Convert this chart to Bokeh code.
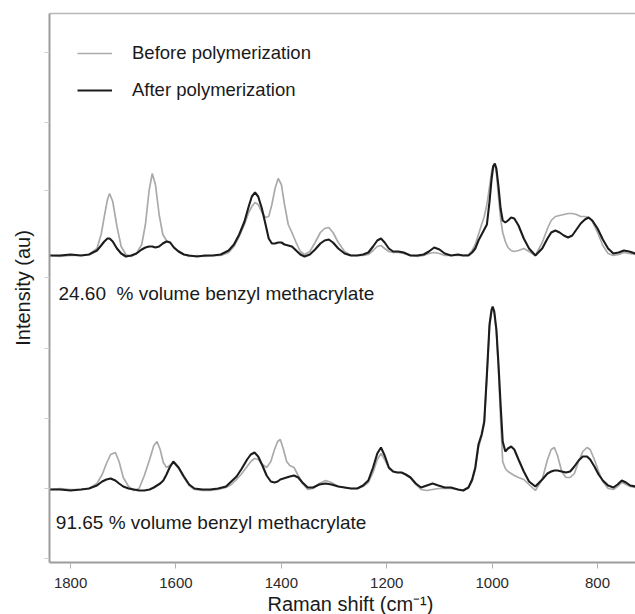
import numpy as np
from bokeh.plotting import figure
from bokeh.models import Range1d, FixedTicker, LinearAxis, Legend, LegendItem, Label, Title
from bokeh.embed import file_html
from bokeh.resources import INLINE

# ---------------- data ----------------
x_ticks = [1800, 1600, 1400, 1200, 1000, 800]
y_ticks = [4, 74, 144, 214, 285, 372, 440, 510]   # unlabeled intensity ticks

offset_top = 306   # baseline of the 24.60 % spectra (intensity units)
offset_bot = 73    # baseline of the 91.65 % spectra

wn_top = [1840, 1820, 1800, 1780, 1765, 1750, 1742, 1736, 1730, 1726,
          1720, 1712, 1704, 1695, 1685, 1675, 1665, 1658, 1651, 1645,
          1639, 1632, 1625, 1618, 1611, 1604, 1595, 1585, 1575, 1560,
          1545, 1530, 1515, 1500, 1490, 1480, 1470, 1462, 1456, 1450,
          1444, 1437, 1430, 1424, 1418, 1412, 1406, 1400, 1394, 1387,
          1380, 1372, 1364, 1356, 1346, 1336, 1326, 1318, 1310, 1302,
          1292, 1280, 1268, 1256, 1245, 1235, 1226, 1218, 1211, 1204,
          1196, 1188, 1178, 1168, 1155, 1142, 1130, 1120, 1110, 1100,
          1090, 1078, 1065, 1055, 1045, 1038, 1032, 1026, 1020, 1015,
          1010, 1005, 1001, 998, 995, 992, 988, 984, 980, 975,
          970, 964, 958, 950, 940, 930, 918, 905, 895, 888,
          880, 872, 864, 856, 848, 840, 832, 824, 817, 810,
          800, 790, 780, 770, 760, 750, 740, 728]

after_top = [1, 1, 2, 1, 2, 6, 11, 15, 18, 18,
             15, 8, 3, 0, 1, 3, 7, 9, 10, 10,
             9, 10, 13, 15, 14, 9, 5, 2, 1, 0,
             1, 1, 2, 6, 12, 22, 35, 50, 60, 64,
             60, 48, 32, 18, 13, 13, 14, 14, 12, 11,
             10, 6, 2, 0, 2, 7, 13, 16, 17, 14,
             8, 3, 1, 1, 2, 4, 10, 16, 18, 14,
             8, 5, 5, 4, 1, 1, 2, 5, 9, 7,
             3, 1, 2, 1, 1, 4, 8, 16, 22, 27,
             32, 55, 78, 90, 93, 88, 70, 48, 36, 34,
             36, 39, 38, 31, 18, 8, 1, 8, 18, 24,
             26, 24, 21, 19, 21, 27, 33, 37, 39, 36,
             28, 17, 8, 3, 4, 6, 5, 3]

before_top = [1, 0, 1, 1, 2, 8, 22, 40, 57, 63,
              55, 30, 10, 2, 0, 3, 12, 32, 66, 83,
              72, 42, 22, 16, 14, 9, 5, 2, 0, 1,
              0, 1, 1, 4, 10, 20, 32, 44, 50, 54,
              52, 44, 39, 40, 52, 68, 78, 72, 52, 32,
              24, 14, 5, 2, 5, 14, 24, 28, 29, 24,
              14, 5, 1, 1, 1, 2, 6, 10, 11, 8,
              5, 4, 4, 3, 1, 0, 1, 3, 4, 3,
              1, 1, 1, 1, 2, 6, 12, 22, 32, 40,
              52, 70, 85, 91, 92, 84, 60, 38, 24, 15,
              9, 6, 5, 6, 8, 5, 1, 14, 28, 36,
              40, 41, 42, 43, 43, 42, 40, 40, 39, 35,
              24, 11, 3, 1, 2, 4, 3, 2]

wn_bot = [1840, 1820, 1800, 1780, 1765, 1750, 1740, 1732, 1724, 1715,
          1708, 1700, 1690, 1680, 1670, 1660, 1650, 1642, 1636, 1630,
          1624, 1618, 1612, 1605, 1595, 1585, 1575, 1565, 1550, 1535,
          1520, 1505, 1495, 1485, 1475, 1465, 1458, 1451, 1444, 1436,
          1428, 1420, 1413, 1407, 1402, 1396, 1390, 1384, 1376, 1368,
          1360, 1350, 1340, 1328, 1316, 1305, 1292, 1280, 1268, 1256,
          1245, 1235, 1226, 1218, 1211, 1204, 1196, 1188, 1180, 1172,
          1164, 1155, 1145, 1135, 1124, 1113, 1102, 1090, 1078, 1065,
          1055, 1045, 1038, 1032, 1026, 1020, 1015, 1010, 1005, 1001,
          999, 996, 992, 988, 984, 980, 975, 970, 964, 958,
          950, 940, 930, 918, 905, 895, 888, 882, 876, 868,
          860, 852, 844, 836, 828, 820, 814, 806, 798, 790,
          780, 770, 762, 754, 746, 738, 728]

after_bot = [0, 0, -1, 0, 1, 4, 8, 10, 11, 9,
             6, 3, 1, 0, -1, -1, 0, 2, 4, 6,
             9, 15, 22, 28, 22, 13, 5, 1, 0, 0,
             1, 3, 8, 13, 21, 30, 35, 37, 33, 24,
             14, 8, 7, 8, 10, 11, 12, 13, 14, 12,
             7, 2, 2, 5, 6, 5, 3, 2, 1, 1,
             4, 9, 22, 36, 42, 34, 22, 18, 17, 17,
             15, 12, 6, 2, 4, 6, 4, 2, 2, 0,
             -1, 2, 10, 22, 45, 55, 68, 115, 165, 180,
             183, 178, 160, 125, 85, 48, 38, 41, 43, 40,
             30, 18, 8, 3, 10, 16, 18, 19, 19, 18,
             17, 18, 23, 29, 33, 33, 30, 23, 15, 9,
             4, 2, 5, 9, 7, 4, 3]

before_bot = [0, 1, 0, 0, 1, 6, 15, 26, 35, 37,
              28, 12, 3, -1, 1, 14, 30, 44, 48, 40,
              27, 22, 24, 27, 21, 12, 4, 0, -1, -1,
              0, 2, 5, 10, 16, 23, 28, 31, 30, 25,
              22, 28, 40, 48, 50, 40, 28, 24, 22, 14,
              6, 0, 1, 6, 9, 7, 3, 2, 1, 1,
              3, 7, 17, 30, 36, 30, 21, 18, 17, 17,
              15, 12, 5, 0, -1, 0, 1, 1, 1, 0,
              -1, 2, 8, 20, 42, 53, 66, 112, 163, 179,
              181, 176, 158, 120, 70, 28, 21, 18, 16, 14,
              12, 10, 5, -1, 10, 30, 40, 42, 34, 18,
              12, 12, 16, 28, 38, 42, 40, 30, 18, 8,
              1, 0, 3, 7, 5, 3, 2]

label_top = "24.60\u00a0 % volume benzyl methacrylate"
label_bot = "91.65 % volume benzyl methacrylate"
x_title = "Raman shift (cm\u207b\u00b9)"
y_title = "Intensity (au)"

# ---------------- figure ----------------
FONT = "Liberation Sans"
GRAY = "#aaaaaa"
BLACK = "#1c1c1c"
AXIS = "#9c9c9c"

p = figure(width=635, height=614, output_backend="svg", toolbar_location=None,
           x_range=Range1d(1840, 728), y_range=Range1d(0, 549),
           min_border_left=49, min_border_right=0, min_border_top=13, min_border_bottom=52,
           background_fill_color="white", border_fill_color="white")
p.outline_line_color = None
p.xgrid.visible = False
p.ygrid.visible = False

r_bt = p.line(wn_top, np.array(before_top) + offset_top, line_color=GRAY, line_width=1.7)
r_bb = p.line(wn_bot, np.array(before_bot) + offset_bot, line_color=GRAY, line_width=1.7)
r_at = p.line(wn_top, np.array(after_top) + offset_top, line_color=BLACK, line_width=2.1)
r_ab = p.line(wn_bot, np.array(after_bot) + offset_bot, line_color=BLACK, line_width=2.1)

# x axis
xa = p.xaxis[0]
xa.ticker = FixedTicker(ticks=x_ticks)
xa.minor_tick_line_color = None
xa.axis_line_color = AXIS
xa.axis_line_width = 2
xa.major_tick_line_color = "#b0b0b0"
xa.major_tick_out = 6
xa.major_tick_in = 0
xa.major_label_standoff = 9
xa.major_label_text_font = FONT
xa.major_label_text_font_size = "15px"
xa.major_label_text_color = "#2a2a2a"

# x-axis title (a title panel under the axis, placed as in the reference)
p.add_layout(Title(text=x_title, align="left", offset=218, standoff=0,
                   text_font=FONT, text_font_size="20px", text_font_style="normal",
                   text_color="#1a1a1a"), "below")

# y axis
ya = p.yaxis[0]
ya.ticker = FixedTicker(ticks=y_ticks)
ya.minor_tick_line_color = None
ya.axis_line_color = AXIS
ya.axis_line_width = 2
ya.major_tick_line_color = "#cfcfcf"
ya.major_tick_out = 5
ya.major_tick_in = 0
ya.major_label_overrides = {t: "" for t in y_ticks}
ya.major_label_text_font_size = "1px"
ya.major_label_standoff = 0
ya.axis_label = y_title
ya.axis_label_text_font = FONT
ya.axis_label_text_font_size = "20px"
ya.axis_label_text_font_style = "normal"
ya.axis_label_text_color = "#1a1a1a"
ya.axis_label_standoff = 11

# top frame line
top = LinearAxis(ticker=FixedTicker(ticks=[]), axis_line_color="#b8b8b8", axis_line_width=1.5,
                 major_tick_line_color=None, minor_tick_line_color=None,
                 major_tick_out=0, major_tick_in=0, major_label_standoff=0,
                 major_label_text_font_size="0px")
p.add_layout(top, "above")

legend = Legend(items=[LegendItem(label="Before polymerization", renderers=[r_bt]),
                       LegendItem(label="After polymerization", renderers=[r_at])],
                location=(28, 461), padding=0, margin=0, spacing=15,
                glyph_width=35, glyph_height=20, label_height=20, label_standoff=20,
                label_text_font=FONT, label_text_font_size="18.5px", label_text_color="#1a1a1a",
                border_line_color=None, background_fill_alpha=0)
p.add_layout(legend)

p.add_layout(Label(x=1823, y=269, text=label_top, text_font=FONT, text_font_size="19px",
                   text_baseline="middle", text_color="#1a1a1a"))
p.add_layout(Label(x=1828, y=40, text=label_bot, text_font=FONT, text_font_size="19px",
                   text_baseline="middle", text_color="#1a1a1a"))

open("out.html", "w").write(file_html(p, INLINE))
